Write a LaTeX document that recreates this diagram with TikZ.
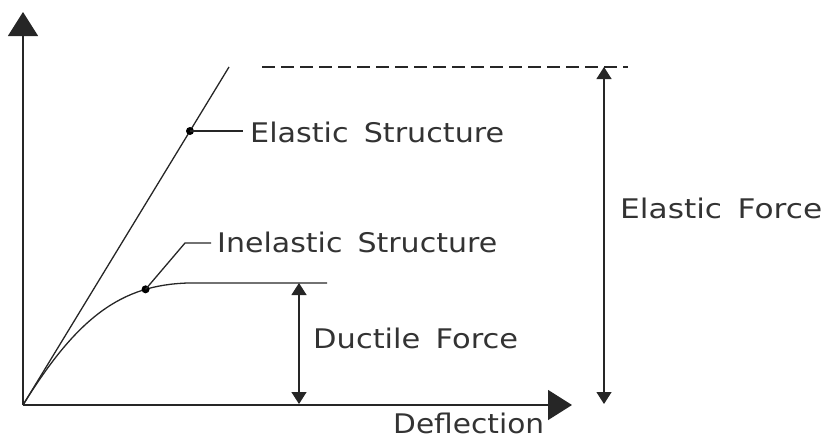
\documentclass[tikz,border=0pt]{standalone}
\usepackage{fontspec}
\setmainfont{DejaVu Sans}
\usetikzlibrary{arrows.meta}
\newsavebox\fitbox
\newcommand\fitw[2]{\sbox\fitbox{#2}\pgfmathsetmacro\fitr{#1/\wd\fitbox}\scalebox{\fitr}[1]{\usebox\fitbox}}
\begin{document}
\begin{tikzpicture}[x=1pt,y=-1pt,
  line/.style={line width=1.3pt,draw=black!85},
  bigarrow/.style={line,-{Triangle[length=24pt,width=30pt]}},
  dimarrow/.style={line,{Triangle[length=12pt,width=15pt]}-{Triangle[length=12pt,width=15pt]}},
  lbl/.style={anchor=base west,inner sep=0pt,text=black!80,font=\fontsize{27}{30}\selectfont},
  dot/.style={circle,fill=black,inner sep=0pt,minimum size=8pt}]
\useasboundingbox (0,0) rectangle (828,439);
% axes
\coordinate (O) at (23,405);
\coordinate (ytip) at (23,12);
\coordinate (xtip) at (572,405);
\draw[bigarrow] (O) -- (ytip);
\draw[bigarrow] (O) -- (xtip);
% elastic line
\coordinate (etop) at (229,67);
\draw[line] (O) -- (etop);
\node[dot] (edot) at (190,131) {};
\coordinate (eleader) at (243,131);
\draw[line] (edot.center) -- (eleader);
\node[lbl] (elabel) at (250,142) {\fitw{254}{Elastic\hspace{0.5em}Structure}};
% inelastic curve
\coordinate (c1) at (78,316);
\coordinate (c2) at (122,285);
\coordinate (k) at (188,283);
\coordinate (kend) at (327,283);
\draw[line] (O) .. controls (c1) and (c2) .. (k) coordinate[pos=0.77] (ip) -- (kend);
\node[dot] (idot) at (ip) {};
\coordinate (ibend) at (185,243);
\coordinate (iend) at (211,243);
\draw[line] (idot.center) -- (ibend) -- (iend);
\node[lbl] (ilabel) at (217,252) {\fitw{280}{Inelastic\hspace{0.5em}Structure}};
% dashed top
\coordinate (d1) at (262,67);
\coordinate (d2) at (628,67);
\draw[line,dash pattern=on 13pt off 6pt] (d1) -- (d2);
% elastic force
\coordinate (ef1) at (604,67);
\coordinate (ef2) at (604,404);
\draw[dimarrow] (ef1) -- (ef2);
\node[lbl] (eflabel) at (620,218) {\fitw{202}{Elastic\hspace{0.5em}Force}};
% ductile force
\coordinate (df1) at (299,283);
\coordinate (df2) at (299,404);
\draw[dimarrow] (df1) -- (df2);
\node[lbl] (dflabel) at (313,348) {\fitw{205}{Ductile\hspace{0.5em}Force}};
% deflection
\node[lbl] (xlabel) at (393,433) {\fitw{151}{Deflection}};
\end{tikzpicture}
\end{document}
